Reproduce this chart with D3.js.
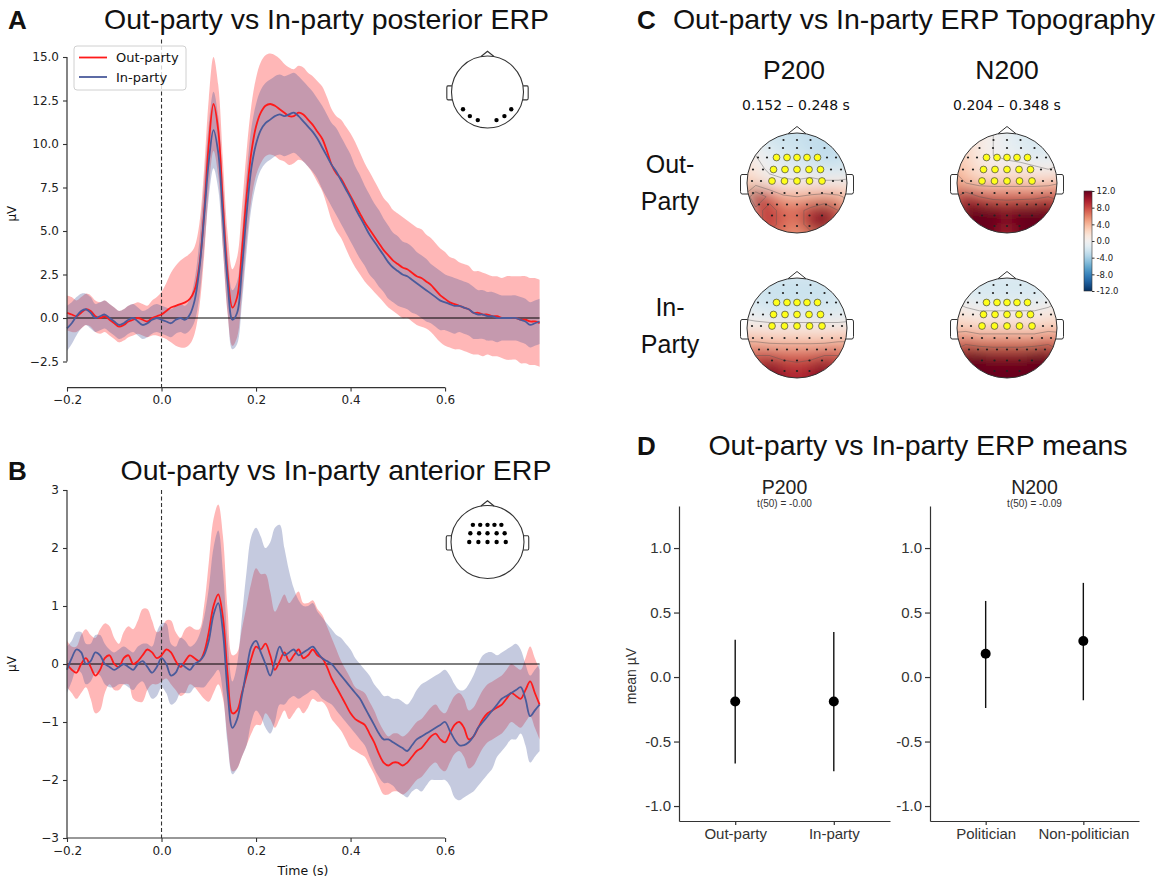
<!DOCTYPE html>
<html><head><meta charset="utf-8">
<script src="https://cdn.jsdelivr.net/npm/d3@7"></script>
<style>body{margin:0;background:#fff}</style>
</head><body>
<svg id="c" width="1167" height="882"></svg>
<script>
// ---------------- DATA ----------------
const times = d3.range(101).map(i => +(-0.2 + i * 0.01).toFixed(2));
const xTicks = [-0.2, 0, 0.2, 0.4, 0.6];
const xTickLabels = ["\u22120.2", "0.0", "0.2", "0.4", "0.6"];
const aYTicks = [-2.5, 0, 2.5, 5, 7.5, 10, 12.5, 15];
const aYTickLabels = ["\u22122.5", "0.0", "2.5", "5.0", "7.5", "10.0", "12.5", "15.0"];
const bYTicks = [-3, -2, -1, 0, 1, 2, 3];
const bYTickLabels = ["\u22123", "\u22122", "\u22121", "0", "1", "2", "3"];

// Panel A (posterior) – Out-party mean and CI half-width
const outA = [0.3,0.2,0.1,0.3,0.5,0.4,0.1,0.0,0.1,-0.1,-0.3,-0.5,-0.4,-0.2,-0.1,0.0,-0.1,-0.2,0.0,0.1,
 0.2,0.4,0.6,0.7,0.8,0.9,1.1,1.6,3.0,6.0,
 10.0,12.3,10.8,6.5,2.5,0.6,1.2,3.8,7.0,9.5,
 11.0,11.8,12.2,12.3,12.2,12.0,11.8,11.6,11.6,11.8,
 11.7,11.4,11.1,10.7,10.3,9.6,8.8,8.3,8.0,7.5,
 7.0,6.5,6.0,5.5,5.1,4.7,4.3,3.9,3.6,3.3,
 3.1,2.9,2.8,2.6,2.4,2.3,2.1,1.9,1.6,1.3,
 1.1,0.9,0.8,0.7,0.6,0.5,0.3,0.3,0.2,0.2,
 0.1,0.1,0.0,0.0,0.0,0.0,-0.1,-0.1,-0.2,-0.2,-0.3];
const outACi = [1.0,1.0,0.9,0.9,0.9,0.9,0.9,0.9,0.9,0.9,0.9,0.9,0.9,0.9,0.9,0.9,0.9,0.9,1.0,1.1,
 1.3,1.6,2.0,2.3,2.5,2.6,2.6,2.5,2.4,2.5,
 2.6,2.7,2.6,2.5,2.3,2.2,2.3,2.5,2.6,2.7,
 2.8,2.9,2.9,2.9,2.9,2.9,2.8,2.8,2.7,2.7,
 2.7,2.7,2.8,2.9,3.0,3.1,3.2,3.3,3.4,3.5,
 3.6,3.6,3.5,3.4,3.3,3.2,3.1,3.0,3.0,2.9,
 2.9,2.9,2.8,2.8,2.8,2.8,2.7,2.7,2.7,2.7,
 2.7,2.6,2.6,2.5,2.5,2.5,2.4,2.4,2.4,2.3,
 2.3,2.3,2.3,2.4,2.4,2.4,2.5,2.5,2.5,2.5,2.5];
// Panel A – In-party
const inA = [-0.6,-0.3,0.1,0.4,0.5,0.3,0.0,0.1,0.2,0.0,-0.2,-0.4,-0.3,-0.1,0.0,-0.2,-0.4,-0.3,-0.1,0.0,
 -0.1,-0.2,-0.3,-0.1,0.0,-0.1,0.2,1.0,2.8,5.8,
 9.0,10.8,9.5,5.8,2.0,-0.1,0.3,2.8,6.0,8.6,
 10.0,10.8,11.2,11.4,11.6,11.7,11.6,11.7,11.8,11.6,
 11.3,11.0,10.7,10.3,9.8,9.3,8.8,8.4,7.9,7.4,
 6.9,6.3,5.8,5.3,4.8,4.4,4.0,3.6,3.2,2.9,
 2.7,2.5,2.4,2.2,2.0,1.8,1.6,1.4,1.2,1.0,
 0.9,0.8,0.7,0.7,0.6,0.5,0.3,0.2,0.2,0.1,
 0.1,0.0,0.0,0.0,0.0,0.0,-0.1,-0.2,-0.4,-0.3,-0.2];
const inACi = [1.3,1.2,1.1,1.0,0.9,0.9,0.8,0.8,0.8,0.8,0.8,0.8,0.8,0.8,0.8,0.8,0.8,0.8,0.8,0.8,
 0.8,0.8,0.8,0.8,0.8,0.8,0.9,1.2,1.6,1.9,
 2.1,2.2,2.1,1.9,1.7,1.7,1.8,2.0,2.2,2.3,
 2.3,2.3,2.3,2.3,2.3,2.3,2.3,2.3,2.3,2.3,
 2.3,2.3,2.3,2.3,2.4,2.4,2.4,2.5,2.5,2.5,
 2.5,2.4,2.4,2.3,2.3,2.2,2.2,2.1,2.1,2.0,
 2.0,1.9,1.9,1.9,1.8,1.8,1.8,1.7,1.7,1.7,
 1.6,1.6,1.6,1.5,1.5,1.5,1.5,1.4,1.4,1.4,
 1.4,1.4,1.3,1.3,1.3,1.3,1.3,1.3,1.3,1.3,1.3];

// Panel B (anterior) – Out-party mean and CI half-width
const outB = [0.0,-0.1,-0.15,0.0,0.1,-0.05,-0.2,-0.1,0.1,0.15,0.0,-0.05,0.1,0.15,0.0,0.05,0.15,0.25,0.2,0.1,
 0.15,0.25,0.2,0.05,-0.05,0.05,0.15,0.1,0.05,0.2,
 0.55,1.0,1.2,0.8,-0.2,-0.85,-0.8,-0.5,-0.2,0.1,
 0.3,0.25,0.35,0.15,-0.1,0.05,0.2,0.05,0.15,0.25,
 0.1,0.15,0.25,0.15,0.1,-0.05,-0.25,-0.4,-0.55,-0.7,
 -0.85,-0.95,-1.0,-1.05,-1.2,-1.35,-1.55,-1.7,-1.75,-1.7,
 -1.7,-1.75,-1.7,-1.6,-1.5,-1.45,-1.35,-1.25,-1.2,-1.3,
 -1.35,-1.2,-1.05,-1.0,-1.1,-1.3,-1.25,-1.1,-0.95,-0.85,
 -0.8,-0.75,-0.7,-0.6,-0.5,-0.55,-0.6,-0.45,-0.3,-0.5,-0.7];
const outBCi = [0.4,0.4,0.45,0.5,0.5,0.55,0.65,0.7,0.6,0.5,0.45,0.4,0.45,0.5,0.6,0.7,0.8,0.7,0.55,0.45,
 0.45,0.5,0.55,0.5,0.5,0.55,0.5,0.5,0.55,0.8,
 1.2,1.5,1.55,1.4,1.1,1.0,1.0,1.1,1.2,1.3,
 1.35,1.3,1.2,1.1,1.0,1.0,1.0,1.0,1.0,1.0,
 0.95,0.9,0.85,0.8,0.75,0.7,0.7,0.65,0.6,0.6,
 0.6,0.55,0.55,0.55,0.55,0.55,0.55,0.55,0.5,0.5,
 0.5,0.5,0.5,0.5,0.5,0.5,0.5,0.5,0.5,0.5,
 0.5,0.5,0.5,0.5,0.5,0.5,0.5,0.5,0.5,0.5,
 0.5,0.5,0.5,0.5,0.5,0.5,0.5,0.55,0.6,0.6,0.6];
// Panel B – In-party mean, band lower and upper
const inB = [-0.1,0.1,0.25,0.2,0.0,0.05,0.2,0.15,0.0,-0.05,-0.1,-0.05,0.0,-0.05,-0.1,0.0,0.05,-0.05,-0.15,-0.05,
 0.1,0.0,-0.2,-0.15,0.0,-0.05,-0.1,0.0,0.05,0.15,
 0.4,0.85,1.05,0.55,-0.5,-1.1,-0.95,-0.55,-0.1,0.3,
 0.4,0.2,0.0,-0.2,0.05,0.3,0.15,0.2,0.25,0.15,
 0.2,0.25,0.3,0.2,0.1,0.05,0.0,-0.1,-0.2,-0.3,
 -0.4,-0.5,-0.6,-0.75,-0.9,-1.05,-1.2,-1.3,-1.3,-1.35,
 -1.4,-1.45,-1.5,-1.4,-1.3,-1.25,-1.2,-1.15,-1.1,-1.05,
 -1.0,-1.15,-1.3,-1.4,-1.4,-1.35,-1.25,-1.1,-1.0,-0.9,
 -0.8,-0.7,-0.6,-0.55,-0.5,-0.45,-0.4,-0.6,-0.9,-0.8,-0.7];
const inBLo = [-0.5,-0.3,-0.1,-0.15,-0.35,-0.3,-0.15,-0.2,-0.35,-0.4,-0.4,-0.35,-0.35,-0.4,-0.45,-0.35,-0.3,-0.45,-0.6,-0.55,
 -0.4,-0.5,-0.7,-0.65,-0.5,-0.5,-0.5,-0.4,-0.4,-0.4,
 -0.3,-0.2,-0.1,-0.5,-1.4,-1.9,-1.8,-1.6,-1.4,-1.0,
 -0.8,-0.9,-1.1,-1.2,-1.0,-0.7,-0.7,-0.6,-0.55,-0.6,
 -0.55,-0.5,-0.45,-0.5,-0.6,-0.65,-0.7,-0.8,-0.9,-1.0,
 -1.1,-1.2,-1.3,-1.4,-1.6,-1.8,-1.95,-2.05,-2.05,-2.1,
 -2.2,-2.25,-2.3,-2.2,-2.15,-2.2,-2.1,-2.0,-2.0,-2.0,
 -2.0,-2.1,-2.3,-2.35,-2.3,-2.25,-2.2,-2.1,-2.0,-1.9,
 -1.8,-1.6,-1.5,-1.4,-1.3,-1.3,-1.2,-1.4,-1.7,-1.6,-1.5];
const inBHi = [0.3,0.4,0.55,0.55,0.35,0.35,0.5,0.5,0.35,0.25,0.2,0.25,0.3,0.25,0.2,0.3,0.35,0.35,0.3,0.55,
 0.7,0.7,0.35,0.3,0.45,0.4,0.3,0.35,0.5,0.8,
 1.3,2.0,2.3,1.6,0.4,-0.3,0.0,0.8,1.6,2.2,
 2.35,2.2,2.0,2.1,2.35,2.4,2.0,1.6,1.3,1.1,
 1.0,1.0,1.05,0.9,0.8,0.7,0.6,0.5,0.45,0.35,
 0.25,0.1,0.0,-0.1,-0.2,-0.35,-0.45,-0.55,-0.55,-0.6,
 -0.6,-0.65,-0.7,-0.6,-0.45,-0.35,-0.3,-0.25,-0.2,-0.15,
 -0.1,-0.2,-0.35,-0.45,-0.45,-0.35,-0.2,0.0,0.15,0.2,
 0.2,0.15,0.2,0.25,0.3,0.35,0.25,0.0,-0.2,-0.1,0.0];

// Topography grids (µV), 9x9, rows front (top) to back (bottom)
const topoP200Out = [
 [-1,-2,-2.5,-2.5,-2.5,-2.5,-2.5,-2,-1],
 [1,-1,-2,-2.5,-2.5,-3,-3,-2.5,-1],
 [2,0,-1,-2,-2,-2.5,-3,-3,-2],
 [2,1,-0.5,-1,-1.5,-1.5,-2,-2,-2],
 [3,2.5,1,0.5,0.5,1,0.5,0.5,1],
 [4,11,7,4.5,4,4.5,5,4.5,3],
 [-1,7,9,7,7,9,11,8,4],
 [4,7,9,7,6,10,12,8,6],
 [5,6,7,6,5,6,7,6,5]];
const topoN200Out = [
 [2,2,1,0,-1,-1.5,-1.5,-1,-1],
 [3,2,1,0,-1,-1.5,-2,-1.5,-1],
 [3,2.5,1,0,-0.5,-1,-1.5,-1.5,-1],
 [4,3,1.5,1,1,1,0.5,0,0.5],
 [5,4,3,3,3,3,3,3,4],
 [7,10,8,7,7,7,7,8,7],
 [7,13,13,12,11,12,13,13,10],
 [7,13,14,13,11,13,14,13,10],
 [7,12,13,12,9,12,13,12,9]];
const topoP200In = [
 [-2,-2,-2,-2,-2,-2,-2,-2,-2],
 [-2,-2,-2.5,-2.5,-2.5,-2.5,-2.5,-2,-2],
 [-1.5,-2,-2.5,-2.5,-2.5,-2.5,-2.5,-2,-2],
 [-0.5,-1,-1.5,-1.5,-1.5,-1.5,-1.5,-1.5,-1],
 [1,1,1,1,1,1,1,1,1],
 [4,4,3.5,3.5,3.5,3.5,3.5,4,4],
 [6,8,8,7,7,7,8,8,6],
 [6,9,12,10,9,10,12,9,6],
 [6,8,11,10,9,10,11,8,6]];
const topoN200In = [
 [-1,-1.5,-1.5,-1.5,-1.5,-1.5,-1.5,-1.5,-1],
 [-1,-1.5,-2,-2,-2,-2,-2,-1.5,-1],
 [0,-1,-1.5,-1.5,-1.5,-1.5,-1.5,-1,0],
 [1.5,1,0.5,0.5,0.5,0.5,0.5,1,1.5],
 [3,3,2.5,2.5,2.5,2.5,2.5,3,3],
 [6,7,6,6,6,6,6,7,6],
 [9,12,12,11,11,11,12,12,9],
 [9,14,15,14,13,14,15,14,9],
 [9,13,15,15,15,15,15,13,9]];
const cbTicks = [12, 8, 4, 0, -4, -8, -12];
const cbTickLabels = ["12.0", "8.0", "4.0", "0.0", "-4.0", "-8.0", "-12.0"];

// Electrode layout (head-radius units, y up)
const elecRows = [
 {y: 0.86, xs: [-0.27, 0, 0.27], hi: []},
 {y: 0.70, xs: [-0.55, -0.28, 0, 0.28, 0.55], hi: []},
 {y: 0.51, xs: [-0.78, -0.6, -0.41, -0.2, 0, 0.2, 0.41, 0.6, 0.78], hi: [2,3,4,5,6]},
 {y: 0.27, xs: [-0.88, -0.68, -0.47, -0.24, 0, 0.24, 0.47, 0.68, 0.88], hi: [2,3,4,5,6]},
 {y: 0.04, xs: [-0.9, -0.72, -0.5, -0.25, 0, 0.25, 0.5, 0.72, 0.9], hi: [2,3,4,5,6]},
 {y: -0.2, xs: [-0.88, -0.7, -0.5, -0.25, 0, 0.25, 0.5, 0.7, 0.88], hi: []},
 {y: -0.43, xs: [-0.76, -0.58, -0.4, -0.2, 0, 0.2, 0.4, 0.58, 0.76], hi: []},
 {y: -0.65, xs: [-0.5, -0.25, 0, 0.25, 0.5], hi: []},
 {y: -0.86, xs: [-0.25, 0, 0.25], hi: []}];
const posteriorSensorsX = [-0.68, -0.49, -0.27, 0.25, 0.47, 0.66];
const posteriorSensorsY = [-0.48, -0.67, -0.78, -0.78, -0.67, -0.48];
const anteriorSensorsX = [-0.4,-0.2,0,0.19,0.38, -0.47,-0.23,0,0.25,0.47, -0.5,-0.25,0,0.25,0.5];
const anteriorSensorsY = [0.47,0.47,0.47,0.47,0.47, 0.24,0.24,0.24,0.24,0.24, 0,0,0,0,0];

// Panel D
const dCatsP = ["Out-party", "In-party"];
const dMeanP = [-0.19, -0.19];
const dLoP = [-0.67, -0.73];
const dHiP = [0.29, 0.35];
const dCatsN = ["Politician", "Non-politician"];
const dMeanN = [0.18, 0.28];
const dLoN = [-0.24, -0.18];
const dHiN = [0.59, 0.73];
const dYTicks = [-1, -0.5, 0, 0.5, 1];
const dYTickLabels = ["-1.0", "-0.5", "0.0", "0.5", "1.0"];

// ---------------- DRAW ----------------
const svg = d3.select("#c");
const FONT = "DejaVu Sans, sans-serif";
const RFONT = "Liberation Sans, Arial, sans-serif";
const RED = "#ff1a1a", BLUE = "#4a5b9b";

function txt(x, y, s, o = {}) {
  const t = svg.append("text").attr("x", x).attr("y", y).text(s)
    .attr("font-family", o.font || FONT).attr("font-size", o.size || 12)
    .attr("fill", o.fill || "#111").attr("text-anchor", o.anchor || "start");
  if (o.weight) t.attr("font-weight", o.weight);
  if (o.rotate) t.attr("transform", `rotate(-90,${x},${y})`);
  return t;
}

function headOutline(g, cx, cy, r, sw) {
  const P = (u, v) => [cx + u * r, cy - v * r];
  g.append("path").attr("d", d3.line()([P(-0.18, 0.985), P(0, 1.13), P(0.18, 0.985)]))
    .attr("fill", "none").attr("stroke", "#333").attr("stroke-width", sw);
  [-1, 1].forEach(s => {
    const p = d3.path();
    const a = P(s * 0.99, 0.17), b = P(s * 1.1, 0.17), c = P(s * 1.1, -0.22), d = P(s * 0.975, -0.22);
    p.moveTo(...a); p.lineTo(...b);
    p.quadraticCurveTo(P(s * 1.13, 0.17)[0], b[1], ...P(s * 1.13, 0.12));
    p.lineTo(...P(s * 1.13, -0.17));
    p.quadraticCurveTo(P(s * 1.13, -0.22)[0], c[1], c[0], c[1]);
    p.lineTo(...d);
    g.append("path").attr("d", p.toString()).attr("fill", "none").attr("stroke", "#333").attr("stroke-width", sw);
  });
  g.append("circle").attr("cx", cx).attr("cy", cy).attr("r", r)
    .attr("fill", "none").attr("stroke", "#333").attr("stroke-width", sw);
}

function sensorIcon(cx, cy, r, xs, ys) {
  const g = svg.append("g");
  headOutline(g, cx, cy, r, 1.1);
  g.selectAll("circle.s").data(xs).join("circle").attr("class", "s")
    .attr("cx", d => cx + d * r).attr("cy", (d, i) => cy - ys[i] * r)
    .attr("r", 2.2).attr("fill", "#000");
}

function erpPanel(c) {
  const x = d3.scaleLinear().domain([-0.2, 0.8]).range([67, 539.6]);
  const y = d3.scaleLinear().domain(c.yDomain).range(c.yRange);
  const g = svg.append("g");
  const cv = d3.curveCatmullRom.alpha(0.5);
  const area = (lo, hi) => d3.area().curve(cv).x((d, i) => x(times[i])).y0((d, i) => y(lo[i])).y1((d, i) => y(hi[i]));
  const ln = d3.line().curve(cv).x((d, i) => x(times[i])).y(d => y(d));
  g.append("path").datum(c.out).attr("d", area(c.outLo, c.outHi)).attr("fill", "#ff2020").attr("fill-opacity", 0.32);
  g.append("path").datum(c.inn).attr("d", area(c.inLo, c.inHi)).attr("fill", BLUE).attr("fill-opacity", 0.32);
  g.append("line").attr("x1", x(-0.2)).attr("x2", x(0.8)).attr("y1", y(0)).attr("y2", y(0))
    .attr("stroke", "#000").attr("stroke-width", 1);
  g.append("line").attr("x1", x(0)).attr("x2", x(0)).attr("y1", c.yRange[1]).attr("y2", c.yRange[0])
    .attr("stroke", "#333").attr("stroke-width", 1.1).attr("stroke-dasharray", "4,2.5");
  g.append("path").datum(c.out).attr("d", ln).attr("fill", "none").attr("stroke", RED).attr("stroke-width", 1.8);
  g.append("path").datum(c.inn).attr("d", ln).attr("fill", "none").attr("stroke", BLUE).attr("stroke-width", 1.8);
  const ax = g.append("g").attr("transform", `translate(0,${c.yRange[0]})`)
    .call(d3.axisBottom(x).tickValues(xTicks).tickFormat((d, i) => xTickLabels[i]).tickSize(4).tickPadding(4));
  ax.select(".domain").remove();
  ax.append("line").attr("x1", x(xTicks[0])).attr("x2", x(xTicks[xTicks.length - 1])).attr("stroke", "#333").attr("stroke-width", 1.2);
  const ay = g.append("g").attr("transform", `translate(${x(-0.2)},0)`)
    .call(d3.axisLeft(y).tickValues(c.yTicks).tickFormat((d, i) => c.yTickLabels[i]).tickSize(4).tickPadding(4));
  ay.select(".domain").remove();
  ay.append("line").attr("y1", y(c.yTicks[0])).attr("y2", y(c.yTicks[c.yTicks.length - 1])).attr("stroke", "#333").attr("stroke-width", 1.2);
  [ax, ay].forEach(a => {
    a.selectAll("text").attr("font-family", FONT).attr("font-size", 12).attr("fill", "#222");
    a.selectAll(".tick line").attr("stroke", "#333").attr("stroke-width", 1.1);
  });
  txt(16, (c.yRange[0] + c.yRange[1]) / 2, "\u00b5V", {size: 12, anchor: "middle", rotate: true});
}

const lower = (m, ci) => m.map((v, i) => v - ci[i]);
const upper = (m, ci) => m.map((v, i) => v + ci[i]);

// Panel A
txt(8, 29, "A", {font: RFONT, size: 26, weight: "bold"});
txt(326.5, 29, "Out-party vs In-party posterior ERP", {font: RFONT, size: 28.5, anchor: "middle"});
erpPanel({out: outA, outLo: lower(outA, outACi), outHi: upper(outA, outACi),
  inn: inA, inLo: lower(inA, inACi), inHi: upper(inA, inACi),
  yDomain: [-4, 16], yRange: [387.6, 39.6], yTicks: aYTicks, yTickLabels: aYTickLabels});
svg.append("rect").attr("x", 74).attr("y", 46).attr("width", 112).attr("height", 44).attr("rx", 3)
  .attr("fill", "#fff").attr("fill-opacity", 0.8).attr("stroke", "#d0d0d0");
[["Out-party", RED, 57.5], ["In-party", BLUE, 77]].forEach(([s, col, yy]) => {
  svg.append("line").attr("x1", 79).attr("x2", 107).attr("y1", yy).attr("y2", yy).attr("stroke", col).attr("stroke-width", 1.8);
  txt(116, yy + 4.5, s, {size: 13});
});
sensorIcon(487.5, 92, 36, posteriorSensorsX, posteriorSensorsY);

// Panel B
txt(8, 480, "B", {font: RFONT, size: 26, weight: "bold"});
txt(336, 480, "Out-party vs In-party anterior ERP", {font: RFONT, size: 28.5, anchor: "middle"});
erpPanel({out: outB, outLo: lower(outB, outBCi), outHi: upper(outB, outBCi),
  inn: inB, inLo: inBLo, inHi: inBHi,
  yDomain: [-3, 3], yRange: [838, 490], yTicks: bYTicks, yTickLabels: bYTickLabels});
txt(303, 875, "Time (s)", {size: 12.5, anchor: "middle"});
sensorIcon(487.5, 542, 36.5, anteriorSensorsX, anteriorSensorsY);

// Panel C
txt(637, 29, "C", {font: RFONT, size: 26, weight: "bold"});
txt(914, 29, "Out-party vs In-party ERP Topography", {font: RFONT, size: 28.5, anchor: "middle"});
txt(794, 79, "P200", {font: RFONT, size: 26.5, anchor: "middle"});
txt(1007, 79, "N200", {font: RFONT, size: 26.5, anchor: "middle"});
txt(796, 110, "0.152 \u2013 0.248 s", {size: 14, anchor: "middle"});
txt(1007, 110, "0.204 \u2013 0.348 s", {size: 14, anchor: "middle"});
txt(670, 173, "Out-", {font: RFONT, size: 25, anchor: "middle"});
txt(670, 210, "Party", {font: RFONT, size: 25, anchor: "middle"});
txt(670, 316, "In-", {font: RFONT, size: 25, anchor: "middle"});
txt(670, 353, "Party", {font: RFONT, size: 25, anchor: "middle"});

const topoColor = d3.scaleDiverging([12, 0, -12], d3.interpolateRdBu).clamp(true);
const defs = svg.append("defs");
defs.append("filter").attr("id", "blur").attr("x", "-20%").attr("y", "-20%").attr("width", "140%").attr("height", "140%")
  .append("feGaussianBlur").attr("stdDeviation", 7.5);

let topoId = 0;
function topomap(cx, cy, R, grid) {
  const id = "clip" + (topoId++);
  defs.append("clipPath").attr("id", id).append("circle").attr("cx", cx).attr("cy", cy).attr("r", R);
  const n = grid.length, step = 2.2 / (n - 1);
  const g = svg.append("g");
  const field = g.append("g").attr("clip-path", `url(#${id})`);
  const cells = [];
  grid.forEach((row, r) => row.forEach((v, c) => cells.push({r, c, v})));
  const half = step * R / 2 + 0.5;
  const cxp = c => cx + (-1.1 + c * step) * R, cyp = r => cy + (-1.1 + r * step) * R;
  field.append("g").attr("filter", "url(#blur)").selectAll("rect").data(cells).join("rect")
    .attr("x", d => cxp(d.c) - half - (d.c === 0 ? 30 : 0))
    .attr("y", d => cyp(d.r) - half - (d.r === 0 ? 30 : 0))
    .attr("width", d => 2 * half + (d.c === 0 || d.c === n - 1 ? 30 : 0))
    .attr("height", d => 2 * half + (d.r === 0 || d.r === n - 1 ? 30 : 0))
    .attr("fill", d => topoColor(d.v));
  const contours = d3.contours().size([n, n]).thresholds([-4, 0, 4, 8]).smooth(true)(grid.flat());
  const proj = d3.geoTransform({point(px, py) {
    this.stream.point(cx + (-1.1 + (px - 0.5) * step) * R, cy + (-1.1 + (py - 0.5) * step) * R);
  }});
  field.selectAll("path.ct").data(contours).join("path").attr("class", "ct")
    .attr("d", d3.geoPath(proj)).attr("fill", "none").attr("stroke", "#555").attr("stroke-width", 0.6).attr("stroke-opacity", 0.7);
  const el = [];
  elecRows.forEach(row => row.xs.forEach((ex, i) => el.push({x: ex, y: row.y, hi: row.hi.includes(i)})));
  g.selectAll("circle.e").data(el.filter(d => !d.hi)).join("circle").attr("class", "e")
    .attr("cx", d => cx + d.x * R).attr("cy", d => cy - d.y * R).attr("r", 1.1).attr("fill", "#222");
  g.selectAll("circle.h").data(el.filter(d => d.hi)).join("circle").attr("class", "h")
    .attr("cx", d => cx + d.x * R).attr("cy", d => cy - d.y * R).attr("r", 3.4)
    .attr("fill", "#ffff1a").attr("stroke", "#444").attr("stroke-width", 0.7);
  headOutline(g, cx, cy, R, 1);
}
topomap(797, 183, 50, topoP200Out);
topomap(1007, 183, 50, topoN200Out);
topomap(797, 328, 50, topoP200In);
topomap(1007, 328, 50, topoN200In);

// colorbar
const cbScale = d3.scaleLinear().domain([-12, 12]).range([291, 191]);
const grad = defs.append("linearGradient").attr("id", "cbg").attr("x1", 0).attr("y1", 1).attr("x2", 0).attr("y2", 0);
d3.range(0, 1.0001, 0.05).forEach(t => grad.append("stop").attr("offset", t).attr("stop-color", topoColor(-12 + 24 * t)));
svg.append("rect").attr("x", 1084).attr("y", 191).attr("width", 8).attr("height", 100).attr("fill", "url(#cbg)")
  .attr("stroke", "#333").attr("stroke-width", 0.6);
const cbAx = svg.append("g").attr("transform", "translate(1092,0)")
  .call(d3.axisRight(cbScale).tickValues(cbTicks).tickFormat((d, i) => cbTickLabels[i]).tickSize(2.5).tickPadding(2));
cbAx.select(".domain").remove();
cbAx.selectAll("text").attr("font-family", FONT).attr("font-size", 8.5).attr("fill", "#222");
cbAx.selectAll(".tick line").attr("stroke", "#333");

// Panel D
txt(637, 455, "D", {font: RFONT, size: 26, weight: "bold"});
txt(918, 455, "Out-party vs In-party ERP means", {font: RFONT, size: 28.5, anchor: "middle"});
const dY = d3.scaleLinear().domain([-1.116, 1.326]).range([821, 506]);
function meansPanel(x0, x1, cats, means, lo, hi, title, tstat) {
  const xs = d3.scalePoint().domain(cats).range([x0, x1]).padding(0.57);
  const g = svg.append("g");
  const ay = g.append("g").attr("transform", `translate(${x0},0)`)
    .call(d3.axisLeft(dY).tickValues(dYTicks).tickFormat((d, i) => dYTickLabels[i]).tickSize(5).tickPadding(3).tickSizeOuter(0));
  const ax = g.append("g").attr("transform", "translate(0,821)")
    .call(d3.axisBottom(xs).tickSize(4).tickPadding(3).tickSizeOuter(0));
  [ax, ay].forEach(a => {
    a.selectAll("text").attr("font-family", RFONT).attr("font-size", 15).attr("fill", "#333");
    a.selectAll(".tick line, .domain").attr("stroke", "#333").attr("stroke-width", 1.2);
  });
  g.selectAll("line.err").data(cats).join("line").attr("class", "err")
    .attr("x1", d => xs(d)).attr("x2", d => xs(d)).attr("y1", (d, i) => dY(lo[i])).attr("y2", (d, i) => dY(hi[i]))
    .attr("stroke", "#111").attr("stroke-width", 1.4);
  g.selectAll("circle.pt").data(cats).join("circle").attr("class", "pt")
    .attr("cx", d => xs(d)).attr("cy", (d, i) => dY(means[i])).attr("r", 5).attr("fill", "#000");
  txt((x0 + x1) / 2, 494, title, {font: RFONT, size: 19.5, anchor: "middle", fill: "#222"});
  txt((x0 + x1) / 2, 507, tstat, {font: RFONT, size: 10, anchor: "middle", fill: "#333"});
}
meansPanel(679, 890, dCatsP, dMeanP, dLoP, dHiP, "P200", "t(50) = -0.00");
meansPanel(930, 1139, dCatsN, dMeanN, dLoN, dHiN, "N200", "t(50) = -0.09");
txt(636, 676, "mean \u00b5V", {font: RFONT, size: 14, anchor: "middle", rotate: true, fill: "#333"});
</script>
</body></html>
